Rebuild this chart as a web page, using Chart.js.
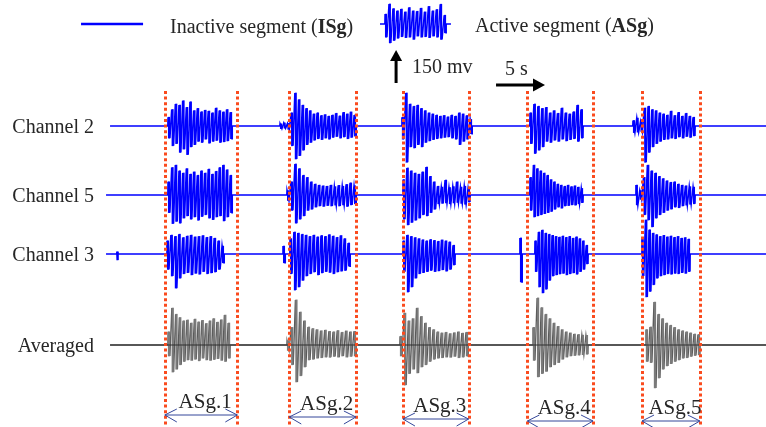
<!DOCTYPE html>
<html>
<head>
<meta charset="utf-8">
<script src="https://cdn.jsdelivr.net/npm/chart.js@4/dist/chart.umd.min.js"></script>
<style>
  body { margin: 0; background: #fff; }
  #wrap { width: 766px; height: 427px; }
</style>
</head>
<body>
<div id="wrap"><canvas id="myChart" width="766" height="427"></canvas></div>
<script>
// time in seconds, amplitude in mV; each burst is a run of alternating up / down peaks
const channelNames = ['Channel 2', 'Channel 5', 'Channel 3', 'Averaged'];
const segStart = [6.0, 18.7, 30.3, 43.0, 54.7];
const segEnd = [13.4, 25.5, 37.0, 49.7, 60.6];
const segLabels = ['ASg.1', 'ASg.2', 'ASg.3', 'ASg.4', 'ASg.5'];

const ch2Start = [6.33, 17.76, 30.2, 43.27, 53.78];
const ch2End = [12.86, 25.51, 37.35, 48.67, 60.1];
const ch2Peaks = [
  [40,-55, 75,-90, 100,-80, 95,-120, 115,-105, 85,-130, 110,-95, 70,-85, 80,-70, 65,-75, 72,-60, 68,-78, 60,-70, 82,-66, 70,-75, 64,-72, 75,-68, 62,-58],
  [10,-12, 14,-10, 12,-15, 60,-90, 150,-150, 120,-135, 95,-110, 80,-85, 70,-75, 55,-65, 60,-58, 48,-62, 52,-55, 45,-60, 50,-52, 58,-48, 46,-55, 62,-50, 55,-58, 64,-52, 50,-46],
  [40,-60, 150,-165, 100,-95, 90,-100, 95,-85, 80,-95, 70,-75, 60,-68, 55,-62, 50,-58, 45,-55, 48,-52, 42,-50, 50,-55, 45,-60, 60,-85, 55,-70, 48,-60, 30,-35],
  [60,-80, 100,-125, 90,-110, 80,-95, 85,-70, 60,-75, 70,-65, 58,-70, 82,-60, 60,-68, 55,-62, 65,-58, 95,-70, 75,-55],
  [25,-30, 36,-28, 20,-25, 82,-165, 90,-120, 75,-95, 70,-80, 60,-70, 55,-62, 50,-60, 68,-55, 48,-58, 62,-50, 45,-55, 58,-48, 45,-52, 40,-45]
];

const ch5Start = [6.33, 18.47, 30.31, 43.27, 54.08];
const ch5End = [12.86, 25.51, 37.14, 48.67, 60.1];
const ch5Peaks = [
  [60,-80, 125,-130, 136,-120, 110,-128, 100,-105, 120,-95, 95,-110, 105,-100, 90,-115, 110,-98, 100,-90, 118,-105, 95,-112, 108,-100, 125,-95, 136,-118, 115,-100, 90,-80],
  [20,-25, 60,-70, 141,-128, 120,-110, 90,-95, 80,-70, 60,-65, 50,-55, 45,-50, 42,-52, 40,-48, 45,-50, 38,-46, 44,-50, 40,-45, 48,-52, 55,-45, 42,-40],
  [70,-110, 123,-136, 110,-125, 100,-115, 95,-105, 105,-90, 127,-95, 85,-80, 60,-65, 40,-40, 36,-38, 68,-36, 34,-40, 38,-36, 60,-34, 36,-38, 40,-42, 30,-32],
  [80,-70, 136,-100, 120,-95, 110,-90, 100,-85, 90,-80, 70,-75, 60,-65, 50,-55, 45,-60, 40,-50, 45,-48, 38,-45, 42,-46, 36,-40, 30,-35],
  [45,-45, 20,-20, 80,-90, 136,-114, 110,-145, 100,-105, 85,-90, 75,-80, 65,-70, 58,-64, 60,-55, 50,-58, 45,-50, 42,-46, 38,-42, 36,-40]
];

const ch3Start = [1.12, 6.22, 18.06, 18.78, 30.31, 42.24, 43.78, 54.69];
const ch3End = [1.2, 12.04, 18.27, 24.9, 35.61, 42.45, 49.18, 59.59];
const ch3Peaks = [
  [10,-27],
  [60,-70, 86,-100, 80,-155, 90,-110, 75,-90, 82,-85, 86,-95, 78,-88, 80,-92, 84,-80, 76,-90, 80,-86, 72,-82, 60,-70, 36,-40],
  [36,-40],
  [70,-90, 100,-164, 95,-150, 90,-120, 86,-100, 80,-90, 86,-82, 78,-95, 84,-86, 80,-80, 88,-84, 82,-90, 76,-82, 84,-78, 70,-75, 50,-55],
  [60,-80, 86,-173, 80,-150, 75,-110, 70,-90, 65,-85, 60,-80, 66,-75, 62,-80, 58,-77, 64,-72, 60,-78, 55,-70, 40,-50],
  [73,-127],
  [60,-80, 100,-150, 109,-177, 95,-160, 90,-120, 85,-100, 80,-95, 77,-91, 82,-88, 76,-95, 80,-90, 72,-86, 78,-92, 70,-80, 60,-70, 40,-45],
  [70,-100, 155,-195, 110,-170, 95,-140, 88,-110, 80,-100, 85,-95, 78,-90, 82,-92, 76,-88, 80,-90, 72,-85, 75,-88, 68,-80]
];

const avgStart = [6.33, 18.47, 30.0, 43.57, 55.1];
const avgEnd = [12.65, 25.51, 36.94, 49.18, 60.61];
const avgPeaks = [
  [60,-50, 168,-123, 140,-110, 125,-90, 110,-75, 114,-68, 100,-70, 118,-65, 105,-72, 112,-60, 98,-68, 110,-70, 120,-66, 104,-62, 115,-70, 136,-75, 100,-60],
  [20,-25, 80,-90, 205,-168, 150,-140, 110,-100, 82,-68, 75,-65, 70,-60, 65,-58, 68,-55, 62,-56, 60,-52, 66,-55, 58,-50, 64,-55, 60,-52, 62,-50],
  [40,-50, 145,-182, 110,-130, 120,-110, 168,-127, 130,-100, 100,-90, 80,-75, 70,-65, 60,-60, 55,-58, 58,-55, 52,-56, 56,-52, 60,-58, 54,-55, 58,-50],
  [80,-70, 214,-145, 170,-130, 140,-120, 120,-100, 100,-90, 85,-80, 70,-65, 60,-55, 55,-50, 50,-48, 48,-46, 45,-44, 44,-42],
  [70,-75, 82,-80, 195,-195, 140,-150, 120,-110, 100,-95, 90,-85, 80,-75, 70,-68, 65,-60, 60,-58, 55,-52, 50,-48, 48,-45]
];

// legend sample burst
const legStart = [28.47];
const legEnd = [34.7];
const legPeaks = [
  [45,-60, 91,-86, 70,-75, 60,-65, 68,-58, 55,-62, 75,-60, 60,-70, 58,-55, 72,-60, 55,-58, 80,-62, 60,-55, 66,-60, 90,-70, 40,-40]
];

const H = 427;
const MV_PER_PX = 150 / 33;

// the signal line: peaks in order, joined through the baseline outside the bursts
function trace(t0, t1, starts, ends, peaks) {
  const pts = [{ x: t0, y: 0 }];
  starts.forEach((s, i) => {
    const p = peaks[i];
    const step = (ends[i] - s) / (p.length - 1);
    pts.push({ x: s - 0.02, y: 0 });
    p.forEach((v, j) => pts.push({ x: s + j * step, y: v }));
    pts.push({ x: ends[i] + 0.02, y: 0 });
  });
  pts.push({ x: t1, y: 0 });
  return pts;
}

// each up/down pair also as one vertical stroke
function strokes(starts, ends, peaks) {
  const out = [];
  starts.forEach((s, i) => {
    const p = peaks[i];
    const step = (ends[i] - s) / (p.length - 1);
    for (let k = 0; k < p.length / 2; k++) {
      out.push({ x: s + (2 * k + 0.5) * step, y: [p[2 * k + 1], p[2 * k]] });
    }
  });
  return out;
}

function yAxis(basePx) {
  return { type: 'linear', display: false, min: -(H - basePx) * MV_PER_PX, max: basePx * MV_PER_PX };
}

function line(data, axis, color, width, order) {
  return {
    type: 'line', data: data, yAxisID: axis,
    borderColor: color, borderWidth: width, pointRadius: 0, tension: 0, order: order
  };
}

function bars(data, axis, color, thick) {
  return {
    type: 'bar', data: data, yAxisID: axis, backgroundColor: color,
    borderWidth: 0, barThickness: thick, grouped: false, order: 1
  };
}

const BLUE = '#0000ff';
const TEXT = '#262626';
const SERIF = '"Liberation Serif", "Times New Roman", serif';

function textParts(ctx, x, y, parts) {
  parts.forEach(([s, bold]) => {
    ctx.font = (bold ? 'bold ' : '') + '20px ' + SERIF;
    ctx.fillText(s, x, y);
    x += ctx.measureText(s).width;
  });
}

function arrowHead(ctx, x, y, dx, dy, len, half) {
  ctx.beginPath();
  ctx.moveTo(x, y);
  ctx.lineTo(x - dx * len - dy * half, y - dy * len + dx * half);
  ctx.lineTo(x - dx * len + dy * half, y - dy * len - dx * half);
  ctx.closePath();
  ctx.fill();
}

const overlay = {
  id: 'overlay',
  afterDatasetsDraw(chart) {
    const ctx = chart.ctx;
    const sx = chart.scales.x;
    ctx.save();

    // segment borders
    ctx.strokeStyle = '#fa4b1e';
    ctx.lineWidth = 3;
    ctx.setLineDash([3, 2.6]);
    segStart.concat(segEnd).forEach(t => {
      const px = Math.round(sx.getPixelForValue(t)) + 0.5;
      ctx.beginPath();
      ctx.moveTo(px, 91);
      ctx.lineTo(px, H);
      ctx.stroke();
    });
    ctx.setLineDash([]);

    // channel names
    ctx.fillStyle = TEXT;
    ctx.font = '20px ' + SERIF;
    ctx.textAlign = 'right';
    ctx.textBaseline = 'middle';
    ['yC2', 'yC5', 'yC3', 'yAvg'].forEach((id, i) => {
      const py = chart.scales[id].getPixelForValue(0);
      ctx.fillText(channelNames[i], 94, py + 2);
    });

    // legend texts
    ctx.textAlign = 'left';
    ctx.textBaseline = 'alphabetic';
    textParts(ctx, 170, 33, [['Inactive segment (', false], ['ISg', true], [')', false]]);
    textParts(ctx, 475, 32, [['Active segment (', false], ['ASg', true], [')', false]]);

    // amplitude scale bar
    const yC2 = chart.scales.yC2;
    const barLen = yC2.getPixelForValue(0) - yC2.getPixelForValue(150);
    const ax = sx.getPixelForValue(29.6);
    ctx.strokeStyle = '#000';
    ctx.fillStyle = '#000';
    ctx.lineWidth = 3;
    ctx.beginPath();
    ctx.moveTo(ax, 83);
    ctx.lineTo(ax, 83 - barLen + 6);
    ctx.stroke();
    arrowHead(ctx, ax, 83 - barLen, 0, -1, 11, 6);
    ctx.fillStyle = TEXT;
    ctx.font = '20px ' + SERIF;
    ctx.fillText('150 mv', 412, 73);

    // time scale bar
    const tx0 = sx.getPixelForValue(39.8);
    const tx1 = sx.getPixelForValue(44.8);
    ctx.fillStyle = '#000';
    ctx.beginPath();
    ctx.moveTo(tx0, 85);
    ctx.lineTo(tx1 - 8, 85);
    ctx.stroke();
    arrowHead(ctx, tx1, 85, 1, 0, 12, 6.5);
    ctx.fillStyle = TEXT;
    ctx.fillText('5 s', 505, 75);

    // segment labels with double arrows
    ctx.font = '21px ' + SERIF;
    ctx.textAlign = 'center';
    ctx.strokeStyle = '#34479a';
    ctx.lineWidth = 1;
    segStart.forEach((s, i) => {
      const x0 = sx.getPixelForValue(s);
      const x1 = sx.getPixelForValue(segEnd[i]);
      const ay = 415 + Math.min(i, 3) * 2;
      ctx.fillStyle = TEXT;
      ctx.fillText(segLabels[i], (x0 + x1) / 2 + 4, ay - 7);
      ctx.beginPath();
      ctx.moveTo(x0, ay); ctx.lineTo(x1, ay);
      ctx.moveTo(x0 + 12, ay - 6); ctx.lineTo(x0, ay); ctx.lineTo(x0 + 12, ay + 7);
      ctx.moveTo(x1 - 12, ay - 6); ctx.lineTo(x1, ay); ctx.lineTo(x1 - 12, ay + 7);
      ctx.stroke();
    });

    ctx.restore();
  }
};

const ctx = document.getElementById('myChart');
new Chart(ctx, {
  type: 'line',
  data: {
    datasets: [
      line([{ x: -2.55, y: 0 }, { x: 3.78, y: 0 }], 'yLeg', BLUE, 2.5, 2),
      line(trace(27.96, 35.2, legStart, legEnd, legPeaks), 'yLeg', BLUE, 1.4, 2),
      bars(strokes(legStart, legEnd, legPeaks), 'yLeg', BLUE, 1.4),
      line(trace(0.41, 67.35, ch2Start, ch2End, ch2Peaks), 'yC2', BLUE, 1.6, 2),
      bars(strokes(ch2Start, ch2End, ch2Peaks), 'yC2', BLUE, 1.4),
      line(trace(0, 67.35, ch5Start, ch5End, ch5Peaks), 'yC5', BLUE, 1.6, 2),
      bars(strokes(ch5Start, ch5End, ch5Peaks), 'yC5', BLUE, 1.4),
      line(trace(0, 67.35, ch3Start, ch3End, ch3Peaks), 'yC3', BLUE, 1.6, 2),
      bars(strokes(ch3Start, ch3End, ch3Peaks), 'yC3', BLUE, 1.4),
      bars(strokes(avgStart, avgEnd, avgPeaks), 'yAvg', '#7a7a7a', 1.6),
      line(trace(0.41, 67.35, avgStart, avgEnd, avgPeaks), 'yAvg', '#5a5a5a', 1.3, 2),
      line([{ x: 0.41, y: 0 }, { x: 67.35, y: 0 }], 'yAvg', '#2e2e2e', 1.2, 0)
    ]
  },
  options: {
    responsive: false,
    animation: false,
    events: [],
    layout: { padding: 0 },
    plugins: { legend: { display: false }, tooltip: { enabled: false } },
    scales: {
      x: { type: 'linear', display: false, offset: false, min: -10.82, max: 67.35 },
      yLeg: yAxis(24),
      yC2: yAxis(126),
      yC5: yAxis(195),
      yC3: yAxis(254),
      yAvg: yAxis(345)
    }
  },
  plugins: [overlay]
});
</script>
</body>
</html>
